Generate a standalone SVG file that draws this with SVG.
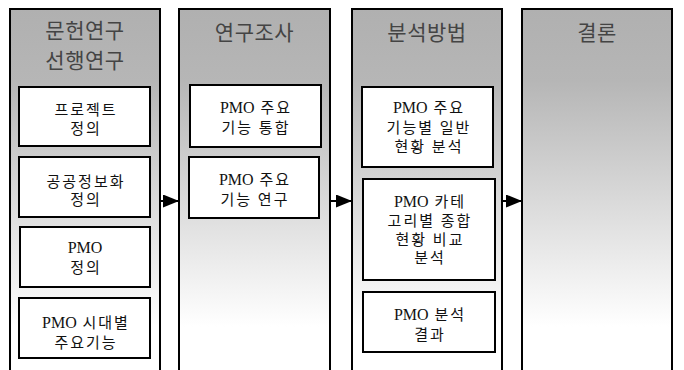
<svg xmlns="http://www.w3.org/2000/svg" width="684" height="370" viewBox="0 0 684 370">
<style>
.col{stroke:#000;stroke-width:2;fill:url(#g)}
.box{stroke:#000;stroke-width:2;fill:#fff}
.t{font-family:"Liberation Serif","Noto Sans CJK KR",serif;text-anchor:middle}
.h{font-size:21px;fill:#444;letter-spacing:0.5px}
.b{font-size:15px;fill:#111;letter-spacing:2px}
.p{letter-spacing:0;font-size:16px}
.ar{stroke:#000;stroke-width:2;fill:none}
</style>
<defs>
<linearGradient id="g" gradientUnits="userSpaceOnUse" x1="0" y1="9" x2="0" y2="370">
<stop offset="0" stop-color="#b0b0b0"/>
<stop offset="0.2" stop-color="#b6b6b6"/>
<stop offset="0.88" stop-color="#ffffff"/>
<stop offset="1" stop-color="#ffffff"/>
</linearGradient>
<marker id="ah" viewBox="0 0 10 10" refX="10" refY="5" markerWidth="16" markerHeight="13" markerUnits="userSpaceOnUse" orient="auto" preserveAspectRatio="none">
<path d="M0,0L10,5L0,10z" fill="#000"/>
</marker>
</defs>
<g id="col1">
<rect class="col" x="10" y="9" width="150" height="370"/>
<text class="t h" x="85" y="37.5">문헌연구</text>
<text class="t h" x="85" y="67.5">선행연구</text>
</g>
<g id="n1">
<rect class="box" x="19" y="87" width="131" height="59"/>
<text class="t b" x="86" y="115">프로젝트</text>
<text class="t b" x="86" y="134">정의</text>
</g>
<g id="n2">
<rect class="box" x="19" y="157" width="131" height="60"/>
<text class="t b" x="86" y="187">공공정보화</text>
<text class="t b" x="86" y="205">정의</text>
</g>
<g id="n3">
<rect class="box" x="20" y="227" width="130" height="60"/>
<text class="t b" x="85" y="253"><tspan class="p">PMO</tspan></text>
<text class="t b" x="86" y="273">정의</text>
</g>
<g id="n4">
<rect class="box" x="19" y="298" width="131" height="60"/>
<text class="t b" x="86" y="328"><tspan class="p">PMO</tspan> 시대별</text>
<text class="t b" x="86" y="348">주요기능</text>
</g>
<g id="col2">
<rect class="col" x="179" y="9" width="151" height="370"/>
<text class="t h" x="254.5" y="39.5">연구조사</text>
</g>
<g id="n5">
<rect class="box" x="190" y="85" width="131" height="62"/>
<text class="t b" x="256" y="113"><tspan class="p">PMO</tspan> 주요</text>
<text class="t b" x="256" y="133">기능 통합</text>
</g>
<g id="n6">
<rect class="box" x="189" y="157" width="130" height="61"/>
<text class="t b" x="255" y="185"><tspan class="p">PMO</tspan> 주요</text>
<text class="t b" x="255" y="205">기능 연구</text>
</g>
<g id="col3">
<rect class="col" x="352" y="9" width="150" height="370"/>
<text class="t h" x="427" y="39.5">분석방법</text>
</g>
<g id="n7">
<rect class="box" x="362" y="87" width="131" height="80"/>
<text class="t b" x="429" y="113"><tspan class="p">PMO</tspan> 주요</text>
<text class="t b" x="429" y="133">기능별 일반</text>
<text class="t b" x="429" y="152">현황 분석</text>
</g>
<g id="n8">
<rect class="box" x="363" y="179" width="132" height="101"/>
<text class="t b" x="430" y="207"><tspan class="p">PMO</tspan> 카테</text>
<text class="t b" x="430" y="226">고리별 종합</text>
<text class="t b" x="430" y="245">현황 비교</text>
<text class="t b" x="430" y="263">분석</text>
</g>
<g id="n9">
<rect class="box" x="363" y="292" width="132" height="60"/>
<text class="t b" x="430" y="320"><tspan class="p">PMO</tspan> 분석</text>
<text class="t b" x="430" y="340">결과</text>
</g>
<g id="col4">
<rect class="col" x="522" y="9" width="150" height="370"/>
<text class="t h" x="597" y="39.5">결론</text>
</g>
<g id="connectors">
<line class="ar" x1="160" y1="201" x2="179" y2="201" marker-end="url(#ah)"/>
<line class="ar" x1="330" y1="201" x2="352" y2="201" marker-end="url(#ah)"/>
<line class="ar" x1="502" y1="201" x2="522" y2="201" marker-end="url(#ah)"/>
</g>
</svg>
